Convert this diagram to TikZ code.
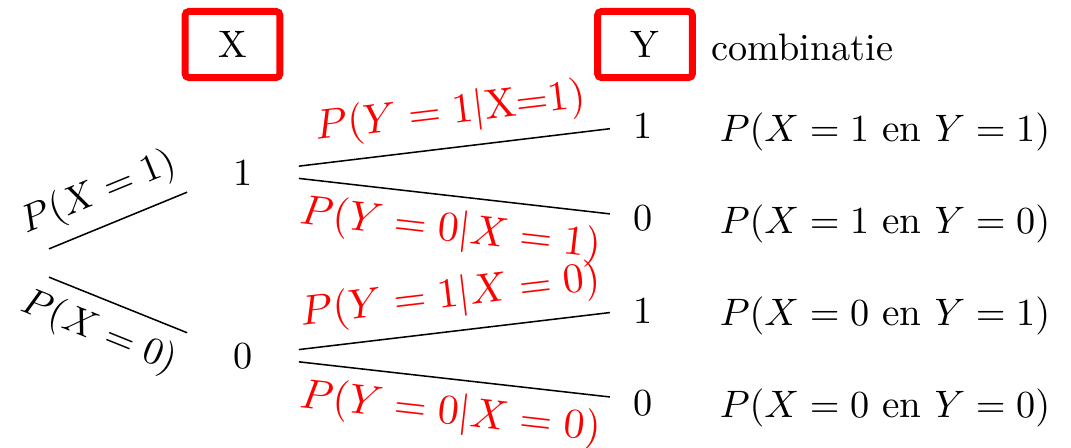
\documentclass[tikz,border=0pt]{standalone}
\usepackage{amsmath}
\usepackage{xcolor}
\usepackage{tikz}
\usetikzlibrary{positioning, calc}
\definecolor{boxred}{RGB}{255,0,0}

\begin{document}
\begin{tikzpicture}[x=0.2615pt, y=-0.2615pt,
    xval/.style={inner xsep=11.9pt, anchor=base},
    yval/.style={inner xsep=6.1pt, anchor=base},
    combo/.style={inner sep=0pt, anchor=base west},
    hdr/.style={draw=boxred, line width=1.8pt, rounded corners=1pt, minimum width=24.8pt, minimum height=17.3pt, inner sep=0pt},
    cond/.style={sloped, font=\fontsize{10.95}{13}\selectfont, text=boxred}]
    \useasboundingbox (0,0) rectangle (1071,447);

    % headers
    \node[hdr] (hx) at (232.5,44.5) {X};
    \node[hdr] (hy) at (645,44.5) {Y};
    \node[combo] (comb) at (711,60) {combinatie};

    % X level
    \coordinate (root) at (49,263);
    \node[xval] (x1) at (243,185) {1};
    \node[xval] (x0) at (243,368) {0};

    % Y level
    \node[yval] (y11) at (643.5,138) {1};
    \node[yval] (y10) at (643.5,230) {0};
    \node[yval] (y01) at (643.5,323) {1};
    \node[yval] (y00) at (643.5,415) {0};

    \node[combo, font=\fontsize{10.25}{12.3}\selectfont] (c11) at (719,141) {$P(X=1\text{ en }Y=1)$};
    \node[combo, font=\fontsize{10.25}{12.3}\selectfont] (c10) at (719,233) {$P(X=1\text{ en }Y=0)$};
    \node[combo, font=\fontsize{10.25}{12.3}\selectfont] (c01) at (719,325) {$P(X=0\text{ en }Y=1)$};
    \node[combo, font=\fontsize{10.25}{12.3}\selectfont] (c00) at (719,417) {$P(X=0\text{ en }Y=0)$};

    \draw ([yshift=3.7pt]root) -- node[sloped, above, pos=0.45] {$P(X=1)$} ([yshift=-5.2pt]x1.west);
    \draw ([yshift=-3.7pt]root) -- node[sloped, below, pos=0.45] {$P(X=0)$} ([yshift=6pt]x0.west);

    \draw ([yshift=1.6pt]x1.east) -- node[cond, above] {$P(Y=1|\text{X=1})$} ([yshift=-0.9pt]y11.west);
    \draw ([yshift=-1.6pt]x1.east) -- node[cond, below] {$P(Y=0|X=1)$} ([yshift=1pt]y10.west);
    \draw ([yshift=1.6pt]x0.east) -- node[cond, above] {$P(Y=1|X=0)$} ([yshift=-0.6pt]y01.west);
    \draw ([yshift=-1.6pt]x0.east) -- node[cond, below] {$P(Y=0|X=0)$} ([yshift=1.5pt]y00.west);
\end{tikzpicture}
\end{document}
